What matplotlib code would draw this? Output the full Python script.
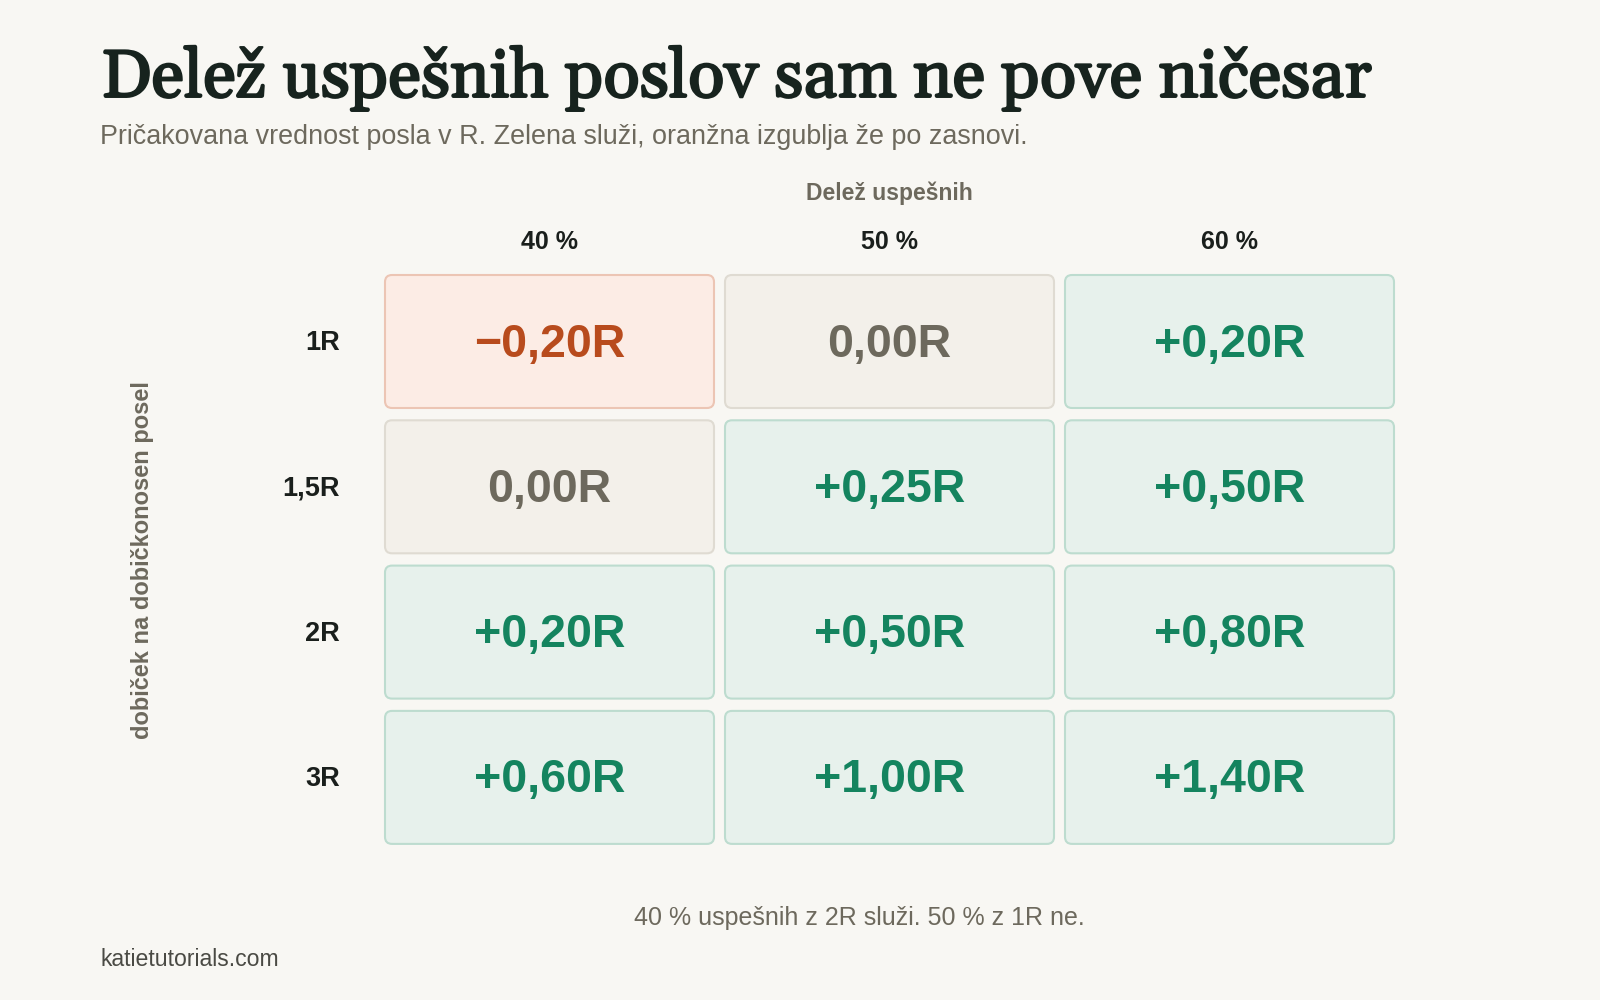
import matplotlib.pyplot as plt
import matplotlib.patheffects as pe
from matplotlib.patches import FancyBboxPatch

# data
win_rates = ["40 %", "50 %", "60 %"]
payoffs = ["1R", "1,5R", "2R", "3R"]
ev = [
    [-0.20, 0.00, 0.20],
    [0.00, 0.25, 0.50],
    [0.20, 0.50, 0.80],
    [0.60, 1.00, 1.40],
]

title = "Delež uspešnih poslov sam ne pove ničesar"
subtitle = "Pričakovana vrednost posla v R. Zelena služi, oranžna izgublja že po zasnovi."
col_title = "Delež uspešnih"
row_title = "dobiček na dobičkonosen posel"
note = "40 % uspešnih z 2R služi. 50 % z 1R ne."
source = "katietutorials.com"

BG = "#f8f7f3"
styles = {
    "neg": dict(fill="#fcece5", edge="#ecc5b4", text="#b84b1d"),
    "zero": dict(fill="#f3f0ea", edge="#dfdbd2", text="#6d695d"),
    "pos": dict(fill="#e7f1ec", edge="#bddccf", text="#14845f"),
}


def fmt(v):
    s = f"{abs(v):.2f}".replace(".", ",") + "R"
    if v < 0:
        return "\u2212" + s
    if v > 0:
        return "+" + s
    return s


plt.rcParams["font.family"] = ["Liberation Sans", "DejaVu Sans"]

fig = plt.figure(figsize=(16, 10), dpi=100, facecolor=BG)
ax = fig.add_axes([0, 0, 1, 1])
ax.set_xlim(0, 1600)
ax.set_ylim(1000, 0)
ax.axis("off")
ax.set_facecolor(BG)

# grid geometry (pixels)
x0, y0 = 385, 275
cw, ch = 329, 133
dx, dy = 340, 145.3

for i, lab in enumerate(payoffs):
    cy = y0 + i * dy + ch / 2
    ax.text(340, cy + 2, lab, ha="right", va="center", fontsize=19.5,
            fontweight="bold", color="#1a1f1c")
    for j, v in enumerate(ev[i]):
        st = styles["neg" if v < 0 else ("pos" if v > 0 else "zero")]
        left = x0 + j * dx
        top = y0 + i * dy
        ax.add_patch(FancyBboxPatch((left, top), cw, ch,
                                    boxstyle="round,pad=0,rounding_size=7",
                                    facecolor=st["fill"], edgecolor=st["edge"],
                                    linewidth=1.5))
        ax.text(left + cw / 2, top + ch / 2 + 3, fmt(v), ha="center",
                va="center", fontsize=33.5, fontweight="bold", color=st["text"])

for j, lab in enumerate(win_rates):
    ax.text(x0 + j * dx + cw / 2, 242, lab, ha="center", va="center",
            fontsize=18, fontweight="bold", color="#1a1f1c")

ax.text(x0 + dx + cw / 2, 193, col_title, ha="center", va="center",
        fontsize=16.5, fontweight="bold", color="#6d695d")
ax.text(143, 560, row_title, ha="center", va="center", rotation=90,
        fontsize=17, fontweight="bold", color="#6d695d")

# Gelasio only ships as a regular variable font here, so thicken it a little
ax.text(101, 97, title, ha="left", va="baseline", fontsize=48.5,
        color="#17231e", family=["Gelasio", "Liberation Serif"],
        path_effects=[pe.withStroke(linewidth=1.4, foreground="#17231e")])
ax.text(100, 137, subtitle, ha="left", va="center", fontsize=19.4,
        color="#6d695d")
ax.text(859, 918, note, ha="center", va="center", fontsize=18,
        color="#6d695d")
ax.text(100, 959, source, ha="left", va="center", fontsize=16.6,
        color="#4a4a44")

fig.savefig("out.png", dpi=100, facecolor=BG)
